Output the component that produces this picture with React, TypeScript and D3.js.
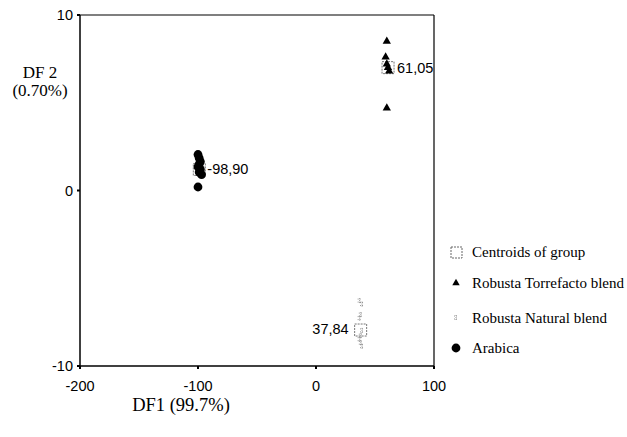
import React from "react";
import * as d3 from "d3";

const xTicks = [-200, -100, 0, 100];
const yTicks = [10, 0, -10];

const arabicaX = [-100, -99, -98, -99, -100, -98, -99, -97, -100];
const arabicaY = [2.05, 1.85, 1.65, 1.5, 1.35, 1.2, 1.05, 0.9, 0.2];

const torrefactoX = [60, 59, 60, 61, 62, 60];
const torrefactoY = [8.5, 7.6, 7.2, 7.0, 6.8, 4.7];

const naturalX = [37, 39, 38, 37, 39, 38, 37, 38, 39];
const naturalY = [-6.3, -6.5, -7.1, -7.3, -8.0, -8.3, -8.5, -8.7, -8.9];

const centroidX = [-98.9, 61.05, 37.84];
const centroidY = [1.2, 7.0, -7.95];
const centroidLabels = ["-98,90", "61,05", "37,84"];

const legendLabels = ["Centroids of group", "Robusta Torrefacto blend", "Robusta Natural blend", "Arabica"];

const W = 627, H = 437;
const L = 80, R = 434, T = 15, B = 366;

export default function App() {
  const x = d3.scaleLinear().domain([-200, 100]).range([L, R]);
  const y = d3.scaleLinear().domain([-10, 10]).range([B, T]);
  const tri = d3.symbol().type(d3.symbolTriangle).size(30)();
  const triLeg = d3.symbol().type(d3.symbolTriangle).size(24)();
  const sans = "Liberation Sans, Arial, sans-serif";
  const serif = "Liberation Serif, Times New Roman, serif";

  const star = (cx: number, cy: number, k: string) => (
    <g key={k} transform={`translate(${cx},${cy})`} stroke="#888" strokeWidth={0.9} fill="none">
      <line x1={-2} y1={-2} x2={2} y2={-2} strokeDasharray="1,1" />
      <line x1={-2} y1={1} x2={2} y2={1} strokeDasharray="1,1" />
      <line x1={0} y1={-3} x2={0} y2={3} strokeDasharray="1,1" />
    </g>
  );

  const legY = [252, 283, 318, 348];

  return (
    <svg width={W} height={H} style={{ position: "absolute", left: 0, top: 0, background: "#fff" }}>
      <rect x={0} y={0} width={W} height={H} fill="#fff" />
      {/* frame */}
      <line x1={L} y1={T} x2={R} y2={T} stroke="#000" strokeWidth={1.2} />
      <line x1={R} y1={T} x2={R} y2={B} stroke="#000" strokeWidth={1.2} />
      <line x1={L} y1={T} x2={L} y2={B} stroke="#000" strokeWidth={1.5} />
      <line x1={L} y1={B} x2={R} y2={B} stroke="#000" strokeWidth={1.5} />
      {/* y ticks */}
      {yTicks.map((t) => (
        <g key={"y" + t}>
          <line x1={L - 3} y1={y(t)} x2={L} y2={y(t)} stroke="#000" strokeWidth={2} />
          <text x={L - 7} y={y(t) + 5} textAnchor="end" fontFamily={sans} fontSize={14.5}>{t}</text>
        </g>
      ))}
      {/* x ticks */}
      {xTicks.map((t) => (
        <g key={"x" + t}>
          <line x1={x(t)} y1={B} x2={x(t)} y2={B + 3} stroke="#000" strokeWidth={2} />
          <text x={x(t)} y={B + 25} textAnchor="middle" fontFamily={sans} fontSize={14.5}>{t}</text>
        </g>
      ))}
      {/* axis titles */}
      <text x={40} y={78} textAnchor="middle" fontFamily={serif} fontSize={17}>DF 2</text>
      <text x={40} y={96} textAnchor="middle" fontFamily={serif} fontSize={17}>(0.70%)</text>
      <text x={181} y={411} textAnchor="middle" fontFamily={serif} fontSize={18.5}>DF1 (99.7%)</text>

      {/* centroids */}
      {centroidX.map((cx, i) => (
        <rect key={"c" + i} x={x(cx) - 6} y={y(centroidY[i]) - 6} width={12} height={12}
          fill="none" stroke="#777" strokeWidth={1} strokeDasharray="2,1" />
      ))}
      {/* arabica */}
      {arabicaX.map((v, i) => (
        <circle key={"a" + i} cx={x(v)} cy={y(arabicaY[i])} r={4.4} fill="#000" />
      ))}
      {/* torrefacto */}
      {torrefactoX.map((v, i) => (
        <path key={"t" + i} d={tri!} transform={`translate(${x(v)},${y(torrefactoY[i])})`} fill="#000" />
      ))}
      {/* natural */}
      {naturalX.map((v, i) => star(x(v), y(naturalY[i]), "n" + i))}

      {/* centroid labels */}
      <text x={x(centroidX[0]) + 8} y={y(centroidY[0]) + 5} fontFamily={sans} fontSize={14.5}>{centroidLabels[0]}</text>
      <text x={x(centroidX[1]) + 9} y={y(centroidY[1]) + 5} fontFamily={sans} fontSize={14.5}>{centroidLabels[1]}</text>
      <text x={x(centroidX[2]) - 12} y={y(centroidY[2]) + 4} textAnchor="end" fontFamily={sans} fontSize={14.5}>{centroidLabels[2]}</text>

      {/* legend */}
      <rect x={451} y={legY[0] - 5} width={11} height={11} fill="none" stroke="#666" strokeDasharray="2,1" />
      <path d={triLeg!} transform={`translate(456,${legY[1]})`} fill="#000" />
      {star(456, legY[2], "leg")}
      <circle cx={456} cy={legY[3]} r={4.4} fill="#000" />
      {legendLabels.map((l, i) => (
        <text key={"l" + i} x={472} y={legY[i] + 5} fontFamily={serif} fontSize={15}>{l}</text>
      ))}
    </svg>
  );
}
